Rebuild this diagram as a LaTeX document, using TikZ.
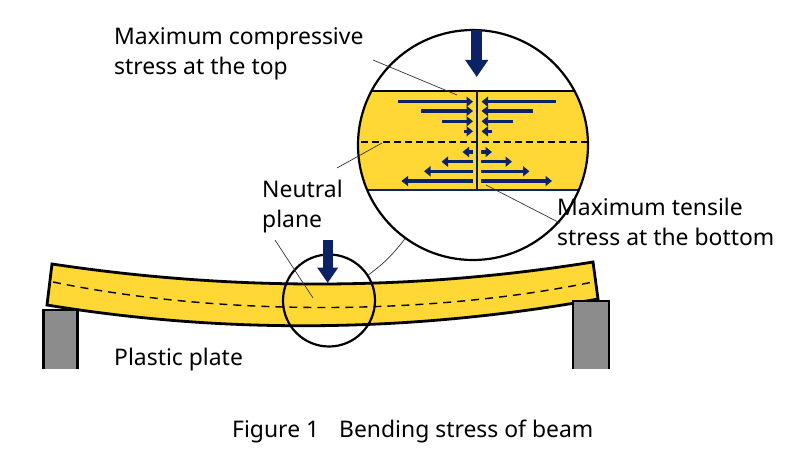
\documentclass[tikz,border=0pt]{standalone}
\usepackage{fontspec}
\setmainfont{Noto Sans}
\usetikzlibrary{arrows.meta}
\definecolor{beamyellow}{HTML}{FFD835}
\definecolor{arrownavy}{HTML}{0B2265}
\definecolor{supportgray}{HTML}{8C8C8C}
\tikzset{
    labeltext/.style = {inner sep = 0, anchor = base west, align = left, font = \fontsize{22.9}{30}\selectfont},
    stressarrow/.style = {arrownavy, line width = 3.2pt, -{Triangle[length = 6.5pt, width = 10pt]}},
    loadarrow/.style = {arrownavy, -{Triangle[length = #1*1.55, width = #1*2]}, line width = #1},
    leader/.style = {line width = 0.7pt, black!80},
    lens/.style = {circle, draw, line width = 2.2pt, inner sep = 0}
}
\begin{document}
\begin{tikzpicture}[x = 1pt, y = -1pt]
    \useasboundingbox (0,0) rectangle (800,469);

    % beam
    \draw[line width = 2.8pt, fill = beamyellow, line join = miter] (52,264) .. controls (232,291) and (412,291) .. (593,262) -- (598,299) .. controls (414,332) and (231,335) .. (47,305) -- cycle;
    \draw[line width = 1.4pt, dashed, dash pattern = on 8pt off 6pt] (53,282) .. controls (219,316) and (426,316) .. (593,282);

    % supports
    \fill[supportgray] (43.3,310) rectangle (77.7,368.5);
    \draw[line width = 2.6pt] (43.3,368.5) -- (43.3,310) -- (77.7,310) -- (77.7,368.5);
    \fill[supportgray] (573,301) rectangle (609,368.5);
    \draw[line width = 2.6pt] (573,368.5) -- (573,301) -- (609,301) -- (609,368.5);

    % magnified part
    \begin{scope}
        \clip (473,145) circle (115pt);
        \fill[beamyellow] (350,91) rectangle (600,190);
        \draw[line width = 2.2pt, black!85!arrownavy] (350,91) -- (600,91);
        \draw[line width = 1.8pt, arrownavy] (350,190) -- (600,190);
        \draw[line width = 1.4pt, dashed, dash pattern = on 6.5pt off 4.5pt] (350,142) -- (600,142);
    \end{scope}
    \draw[line width = 2pt, arrownavy!80!black] (476.7,91) -- (476.7,190);

    % stress arrows, upper half
    \draw[stressarrow] (398,101.7) -- (473,101.7);
    \draw[stressarrow] (421,111) -- (473,111);
    \draw[stressarrow] (442,121.3) -- (473,121.3);
    \draw[stressarrow] (464,131.3) -- (473,131.3);
    \draw[stressarrow] (556,101.7) -- (481.5,101.7);
    \draw[stressarrow] (533,111) -- (481.5,111);
    \draw[stressarrow] (513,121.3) -- (481.5,121.3);
    \draw[stressarrow] (492,131.3) -- (481.5,131.3);

    % stress arrows, lower half
    \draw[stressarrow] (473,152) -- (462.5,152);
    \draw[stressarrow] (473,161.7) -- (441.5,161.7);
    \draw[stressarrow] (473,171.3) -- (424,171.3);
    \draw[stressarrow] (473,181) -- (401.5,181);
    \draw[stressarrow] (481,152) -- (492,152);
    \draw[stressarrow] (481,161.7) -- (512,161.7);
    \draw[stressarrow] (481,171.3) -- (529.5,171.3);
    \draw[stressarrow] (481,181) -- (552,181);

    % lenses
    \node[lens, minimum size = 230pt] (bigcircle) at (473,145) {};
    \node[lens, minimum size = 92pt] (smallcircle) at (329,300.5) {};
    \draw[leader] (smallcircle.33) to[bend right = 8] (bigcircle.234);

    % load arrows
    \coordinate (bigloadtop) at (476.7,30);
    \coordinate (bigloadtip) at (476.7,77);
    \coordinate (smallloadtop) at (327.7,240);
    \coordinate (smallloadtip) at (327.7,283);
    \draw[loadarrow = 11pt] (bigloadtop) -- (bigloadtip);
    \draw[loadarrow = 10pt] (smallloadtop) -- (smallloadtip);

    % labels
    \node[labeltext] (toplabel) at (114,74) {Maximum compressive\\stress at the top};
    \node[labeltext] (neutrallabel) at (262,227) {Neutral\\plane};
    \node[labeltext] (bottomlabel) at (557,245) {Maximum tensile\\stress at the bottom};
    \node[labeltext] (platelabel) at (114,365) {Plastic plate};
    \node[labeltext] (captionlabel) at (232,437) {Figure 1\hspace{20pt}Bending stress of beam};

    % leaders
    \coordinate (topfrom) at (373,60);
    \coordinate (topto) at (457,95);
    \coordinate (planefrom) at (337,168);
    \coordinate (planeto) at (382,143);
    \coordinate (bottomfrom) at (486,185);
    \coordinate (bottomto) at (560,223);
    \coordinate (beamfrom) at (275,240);
    \coordinate (beamto) at (313,298);
    \draw[leader] (topfrom) -- (topto);
    \draw[leader] (planefrom) -- (planeto);
    \draw[leader] (bottomfrom) -- (bottomto);
    \draw[leader] (beamfrom) -- (beamto);
\end{tikzpicture}
\end{document}
